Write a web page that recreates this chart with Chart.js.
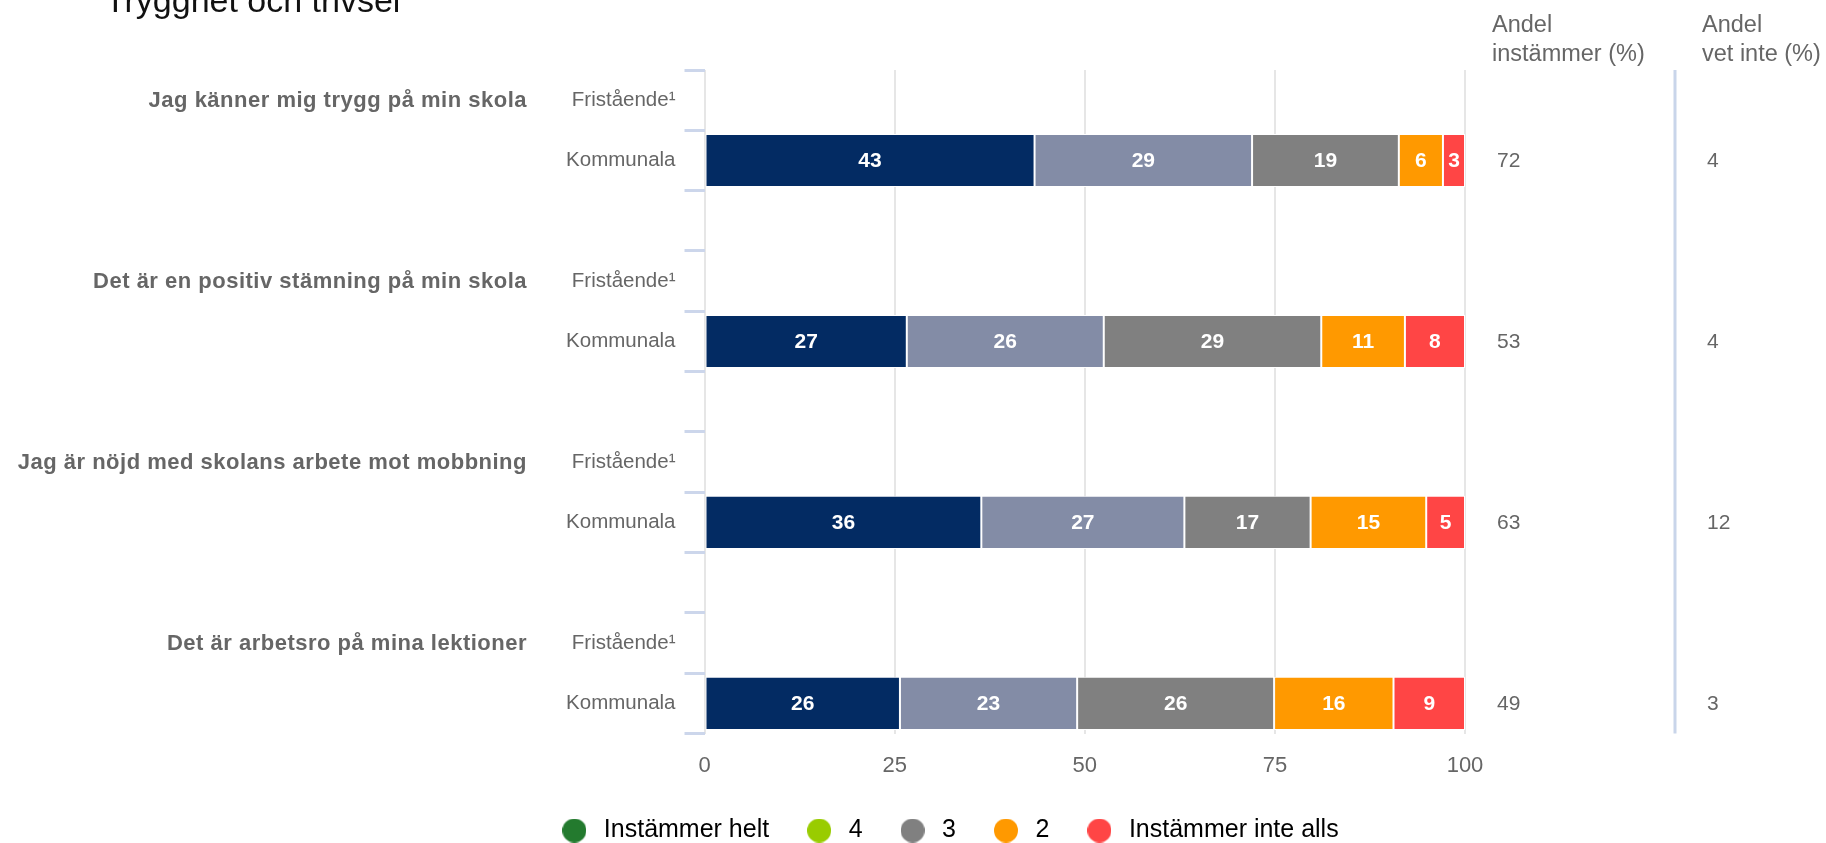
<!DOCTYPE html>
<html>
<head>
<meta charset="utf-8">
<script src="https://cdn.jsdelivr.net/npm/chart.js@4.4.0/dist/chart.umd.min.js"></script>
<style>
  html, body { margin: 0; padding: 0; background: #fff; }
  #wrap { width: 1826px; height: 843px; position: relative; }
</style>
</head>
<body>
<div id="wrap"><canvas id="myChart"></canvas></div>
<script>
// texts
const chartTitle = 'Trygghet och trivsel';
const questions = [
  'Jag känner mig trygg på min skola',
  'Det är en positiv stämning på min skola',
  'Jag är nöjd med skolans arbete mot mobbning',
  'Det är arbetsro på mina lektioner'
];
const schoolTypes = ['Fristående¹', 'Kommunala'];
const levels = ['Instämmer helt', '4', '3', '2', 'Instämmer inte alls'];
const headers = [['Andel', 'instämmer (%)'], ['Andel', 'vet inte (%)']];
const xTicks = [0, 25, 50, 75, 100];

// values for Kommunala (percent), one per question
const helt     = [43.4, 26.6, 36.4, 25.7];
const fyra     = [28.6, 25.9, 26.7, 23.3];
const tre      = [19.3, 28.6, 16.6, 25.9];
const tva      = [5.8, 11.0, 15.2, 15.7];
const inteAlls = [2.9, 7.9, 5.1, 9.4];
const andelInstammer = [72, 53, 63, 49];
const andelVetInte   = [4, 4, 12, 3];

// colours
const barColors    = ['#032b63', '#838ca6', '#808080', '#ff9900', '#ff4545'];
const legendColors = ['#237a2e', '#99cc00', '#808080', '#ff9900', '#ff4545'];

Chart.defaults.font.family = '"Liberation Sans", Arial, sans-serif';

// rows: Fristående, Kommunala, empty spacer between the questions
const rowLabels = [];
questions.forEach((q, i) => {
  if (i > 0) rowLabels.push('');
  rowLabels.push(schoolTypes[0], schoolTypes[1]);
});
const kommRow = i => i * 3 + 1;

function toRows(values) {
  const arr = rowLabels.map(() => null);
  values.forEach((v, i) => { arr[kommRow(i)] = v; });
  return arr;
}

const series = [helt, fyra, tre, tva, inteAlls];

// little circles for the legend
function dot(color) {
  const c = document.createElement('canvas');
  c.width = 24; c.height = 24;
  const g = c.getContext('2d');
  g.fillStyle = color;
  g.beginPath(); g.arc(12, 12, 12, 0, Math.PI * 2); g.fill();
  return c;
}
const legendDots = legendColors.map(dot);

const extras = {
  id: 'extras',
  afterDatasetsDraw(chart) {
    const ctx = chart.ctx;
    ctx.save();
    ctx.font = 'bold 21px "Liberation Sans", Arial, sans-serif';
    ctx.fillStyle = '#ffffff';
    ctx.textAlign = 'center';
    ctx.textBaseline = 'middle';
    chart.data.datasets.forEach((ds, di) => {
      chart.getDatasetMeta(di).data.forEach((el, i) => {
        const v = ds.data[i];
        if (v == null) return;
        const p = el.getCenterPoint();
        ctx.fillText(Math.round(v), p.x, p.y + 1);
      });
    });
    ctx.restore();
  },
  afterDraw(chart) {
    const ctx = chart.ctx;
    const y = chart.scales.y;
    const area = chart.chartArea;
    ctx.save();
    // title (partly cut off at the top like the original)
    ctx.font = '34px "Liberation Sans", Arial, sans-serif';
    ctx.fillStyle = '#111';
    ctx.textAlign = 'left';
    ctx.textBaseline = 'alphabetic';
    ctx.fillText(chartTitle, 105, 12);

    // question labels
    ctx.font = 'bold 22px "Liberation Sans", Arial, sans-serif';
    ctx.fillStyle = '#666';
    ctx.textAlign = 'right';
    ctx.textBaseline = 'middle';
    ctx.letterSpacing = '0.5px';
    questions.forEach((q, i) => {
      ctx.fillText(q, 527, y.getPixelForValue(i * 3) + 1);
    });
    ctx.letterSpacing = '0px';

    // separator between the two value columns
    ctx.strokeStyle = '#c9d5ea';
    ctx.lineWidth = 3;
    ctx.beginPath();
    ctx.moveTo(1675, area.top);
    ctx.lineTo(1675, area.bottom);
    ctx.stroke();

    // column headers
    ctx.font = '23.5px "Liberation Sans", Arial, sans-serif';
    ctx.textAlign = 'left';
    ctx.textBaseline = 'alphabetic';
    const colX = [1492, 1702];
    headers.forEach((h, c) => {
      ctx.fillText(h[0], colX[c], 32);
      ctx.fillText(h[1], colX[c], 61);
    });

    // column values
    ctx.font = '21px "Liberation Sans", Arial, sans-serif';
    ctx.textBaseline = 'middle';
    questions.forEach((q, i) => {
      const py = y.getPixelForValue(kommRow(i)) + 1;
      ctx.fillText(andelInstammer[i], 1497, py);
      ctx.fillText(andelVetInte[i], 1707, py);
    });
    ctx.restore();
  }
};

const ctx = document.getElementById('myChart').getContext('2d');
const myChart = new Chart(ctx, {
  type: 'bar',
  data: {
    labels: rowLabels,
    datasets: levels.map((lvl, i) => ({
      label: lvl,
      data: toRows(series[i]),
      backgroundColor: barColors[i],
      borderColor: '#ffffff',
      borderWidth: 1,
      borderSkipped: false,
      barPercentage: 0.88,
      categoryPercentage: 1
    }))
  },
  options: {
    indexAxis: 'y',
    responsive: true,
    maintainAspectRatio: false,
    animation: false,
    layout: { padding: { top: 70, right: 361, bottom: -10, left: 431 } },
    scales: {
      x: {
        stacked: true,
        min: 0,
        max: 100,
        afterBuildTicks: s => { s.ticks = xTicks.map(v => ({ value: v })); },
        afterFit: s => { s.height = 51.5; },
        grid: { color: '#e6e6e6', lineWidth: 2, drawTicks: false },
        border: { display: false },
        ticks: { color: '#666', font: { size: 22 }, padding: 19 }
      },
      y: {
        stacked: true,
        afterFit: s => { s.width = 273.5; },
        grid: { drawOnChartArea: false, color: '#ccd6eb', lineWidth: 3, tickLength: 20 },
        border: { display: false },
        ticks: { color: '#666', font: { size: 20.5 }, padding: 9, crossAlign: 'near' }
      }
    },
    plugins: {
      tooltip: { enabled: false },
      legend: {
        position: 'bottom',
        labels: {
          usePointStyle: true,
          pointStyleWidth: 34,
          color: '#333',
          font: { size: 25 },
          padding: 33,
          generateLabels: () => levels.map((lvl, i) => ({
            text: lvl,
            fillStyle: legendColors[i],
            strokeStyle: legendColors[i],
            lineWidth: 0,
            pointStyle: legendDots[i],
            hidden: false,
            datasetIndex: i
          }))
        }
      }
    }
  },
  plugins: [extras]
});
</script>
</body>
</html>
